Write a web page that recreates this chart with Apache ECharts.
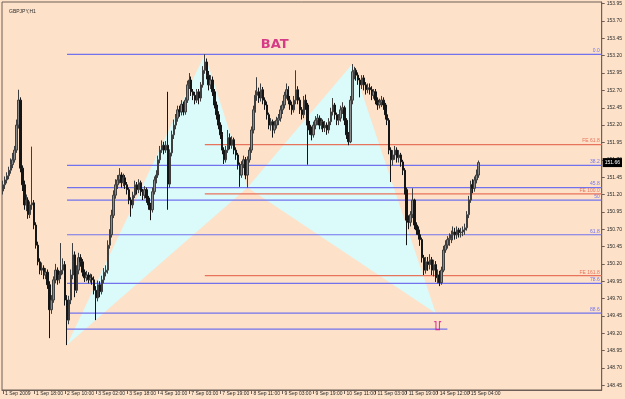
<!DOCTYPE html>
<html>
<head>
<meta charset="utf-8">
<script src="https://cdn.jsdelivr.net/npm/echarts@6/dist/echarts.min.js"></script>
<style>
html,body{margin:0;padding:0;background:#fde2c9}
#chart{width:625px;height:399px}
</style>
</head>
<body>
<div id="chart"></div>
<script>
// GBPJPY H1, one row per hour: [open, close, low, high]
const sep01 = [
[151.25,151.34,151.20,151.40],[151.34,151.41,151.28,151.46],[151.41,151.47,151.36,151.52],[151.47,151.55,151.42,151.60],
[151.55,151.63,151.50,151.72],[151.63,151.70,151.58,151.80],[151.70,151.84,151.66,151.90],[151.84,152.20,151.80,152.28],
[152.20,152.56,152.15,152.71],[152.56,151.58,151.52,152.60],[151.58,151.34,151.25,151.62],[151.34,151.05,150.98,151.40],
[151.05,151.12,150.96,151.20],[151.12,150.91,150.85,151.16],[150.91,151.05,150.86,151.10],[151.05,151.08,150.98,151.89],
[151.08,150.76,150.70,151.12],[150.76,150.47,150.42,150.80],[150.47,150.23,150.18,150.52],[150.23,150.11,150.05,150.28],
[150.11,150.14,150.04,150.22],[150.14,150.04,149.98,150.18]
];
const sep02 = [
[150.04,150.08,149.98,150.14],[150.08,149.90,149.84,150.12],[149.90,149.54,149.13,149.95],[149.54,149.68,149.48,149.75],
[149.68,149.97,149.64,150.02],[149.97,150.11,149.92,150.20],[150.11,149.97,149.90,150.15],[149.97,150.04,149.92,150.10],
[150.04,150.11,149.98,150.50],[150.11,150.19,150.05,150.28],[150.19,149.68,149.60,150.24],[149.68,149.39,149.03,149.75],
[149.39,149.68,149.33,149.74],[149.68,150.04,149.62,150.12],[150.04,150.33,149.98,150.50],[150.33,149.82,149.72,150.38],
[149.82,150.11,149.78,150.18],[150.11,150.29,150.05,150.36],[150.29,150.23,150.16,150.34],[150.23,150.08,150.02,150.27],
[150.08,150.00,149.94,150.12],[150.00,150.04,149.95,150.10],[150.04,149.97,149.92,150.08],[149.97,150.00,149.93,150.06]
];
const sep03 = [
[150.00,149.97,149.90,150.05],[149.97,149.82,149.76,150.02],[149.82,149.71,149.39,149.88],[149.71,149.90,149.66,149.96],
[149.90,149.80,149.72,149.95],[149.80,149.97,149.76,150.03],[149.97,150.08,149.92,150.14],[150.08,150.11,150.02,150.18],
[150.11,150.47,150.06,150.54],[150.47,150.62,150.42,150.70],[150.62,150.90,150.58,150.98],[150.90,151.19,150.86,151.26],
[151.19,151.34,151.14,151.42],[151.34,151.41,151.28,151.48],[151.41,151.48,151.36,151.58],[151.48,151.37,151.30,151.52],
[151.37,151.44,151.32,151.50],[151.44,151.34,151.28,151.48],[151.34,151.27,151.20,151.38],[151.27,151.12,151.06,151.30],
[151.12,151.05,150.88,151.16],[151.05,151.19,151.00,151.24],[151.19,151.34,151.15,151.40],[151.34,151.27,151.20,151.38]
];
const sep04 = [
[151.27,151.37,151.22,151.42],[151.37,151.24,151.18,151.40],[151.24,151.19,151.12,151.28],[151.19,151.27,151.14,151.32],
[151.27,151.15,151.08,151.30],[151.15,151.05,150.98,151.18],[151.05,150.98,150.83,151.08],[150.98,151.24,150.94,151.30],
[151.24,151.41,151.20,151.46],[151.41,151.48,151.36,151.55],[151.48,151.70,151.44,151.76],[151.70,151.84,151.65,151.90],
[151.84,151.91,151.80,151.98],[151.91,151.84,151.78,151.96],[151.84,151.91,151.80,151.97],[151.91,151.35,150.98,152.68],
[151.35,151.80,151.30,151.85],[151.80,152.06,151.75,152.12],[152.06,152.20,152.00,152.28],[152.20,152.30,152.14,152.36],
[152.30,152.42,152.25,152.48],[152.42,152.39,152.32,152.48],[152.39,152.50,152.34,152.56]
];
const sep07 = [
[152.50,152.39,152.34,152.54],[152.39,152.56,152.35,152.60],[152.56,152.78,152.52,152.84],[152.78,152.85,152.72,152.95],
[152.85,152.68,152.62,152.90],[152.68,152.63,152.56,152.72],[152.63,152.56,152.50,152.68],[152.56,152.68,152.52,152.72],
[152.68,152.59,152.50,152.72],[152.59,152.78,152.54,152.82],[152.78,152.99,152.74,153.05],[152.99,153.11,152.94,153.22],
[153.11,152.92,152.86,153.16],[152.92,152.78,152.70,152.98],[152.78,152.85,152.72,152.92],[152.85,152.68,152.62,152.90],
[152.68,152.49,152.44,152.72],[152.49,152.35,152.28,152.54],[152.35,152.20,152.14,152.40],[152.20,152.06,152.00,152.24],
[152.06,151.84,151.78,152.10],[151.84,151.70,151.64,151.88],[151.70,151.84,151.66,151.90],[151.84,152.02,151.80,152.13]
];
const sep08 = [
[152.02,151.91,151.85,152.08],[151.91,151.99,151.86,152.04],[151.99,151.84,151.78,152.02],[151.84,151.77,151.70,151.88],
[151.77,151.63,151.56,151.80],[151.63,151.48,151.31,151.66],[151.48,151.63,151.44,151.68],[151.63,151.70,151.58,151.76],
[151.70,151.48,151.42,151.74],[151.48,151.70,151.30,151.75],[151.70,151.84,151.66,151.88],[151.84,152.13,151.80,152.18],
[152.13,152.42,152.08,152.48],[152.42,152.63,152.38,152.70],[152.63,152.68,152.55,152.89],[152.68,152.59,152.52,152.74],
[152.59,152.71,152.54,152.80],[152.71,152.56,152.50,152.75],[152.56,152.49,152.42,152.60],[152.49,152.35,152.28,152.54],
[152.35,152.20,152.14,152.38],[152.20,152.25,152.12,152.30],[152.25,152.13,152.02,152.28],[152.13,152.20,152.08,152.26]
];
const sep09 = [
[152.20,152.27,152.15,152.32],[152.27,152.30,152.20,152.36],[152.30,152.42,152.25,152.48],[152.42,152.49,152.36,152.55],
[152.49,152.63,152.44,152.68],[152.63,152.71,152.58,152.80],[152.71,152.56,152.50,152.76],[152.56,152.49,152.42,152.62],
[152.49,152.42,152.35,152.54],[152.42,152.56,152.38,152.62],[152.56,152.71,152.50,152.99],[152.71,152.56,152.50,152.76],
[152.56,152.42,152.36,152.60],[152.42,152.35,152.28,152.46],[152.35,152.56,152.30,152.62],[152.56,152.49,152.42,152.64],
[152.49,152.20,151.63,152.52],[152.20,152.13,152.06,152.26],[152.13,152.06,151.98,152.18],[152.06,152.20,152.02,152.25],
[152.20,152.27,152.14,152.33],[152.27,152.30,152.20,152.36],[152.30,152.20,152.14,152.34],[152.20,152.25,152.14,152.30]
];
const sep10 = [
[152.25,152.16,152.10,152.28],[152.16,152.20,152.10,152.26],[152.20,152.13,152.06,152.24],[152.13,152.25,152.08,152.30],
[152.25,152.39,152.20,152.45],[152.39,152.49,152.34,152.59],[152.49,152.35,152.28,152.52],[152.35,152.27,152.20,152.38],
[152.27,152.30,152.20,152.36],[152.30,152.42,152.25,152.48],[152.42,152.45,152.36,152.53],[152.45,152.27,152.20,152.48],
[152.27,152.06,152.00,152.30],[152.06,151.96,151.91,152.10],[151.96,152.56,151.94,152.62],[152.56,152.97,152.50,153.08],
[152.97,152.99,152.86,153.04],[152.99,152.92,152.84,153.02],[152.92,152.85,152.78,152.96],[152.85,152.78,152.60,152.88],
[152.78,152.88,152.72,152.92],[152.88,152.78,152.70,152.92],[152.78,152.71,152.64,152.82],[152.71,152.74,152.66,152.80]
];
const sep11 = [
[152.74,152.71,152.64,152.80],[152.71,152.63,152.56,152.76],[152.63,152.68,152.58,152.72],[152.68,152.56,152.50,152.72],
[152.56,152.49,152.42,152.60],[152.49,152.53,152.44,152.58],[152.53,152.56,152.46,152.62],[152.56,152.49,152.42,152.60],
[152.49,152.35,152.28,152.52],[152.35,152.27,152.20,152.38],[152.27,151.84,151.78,152.30],[151.84,151.70,151.38,151.88],
[151.70,151.77,151.62,151.84],[151.77,151.84,151.70,151.90],[151.84,151.73,151.66,151.88],[151.73,151.77,151.66,151.84],
[151.77,151.67,151.60,151.80],[151.67,151.55,151.48,151.70],[151.55,151.27,151.20,151.58],[151.27,150.83,150.47,151.30],
[150.83,150.80,150.70,150.90],[150.80,150.91,150.74,150.96],[150.91,151.12,150.86,151.29]
];
const sep14 = [
[151.12,150.76,150.70,151.14],[150.76,150.69,150.62,150.80],[150.69,150.62,150.55,150.74],[150.62,150.55,150.46,150.66],
[150.55,150.29,150.22,150.58],[150.29,150.11,150.04,150.33],[150.11,150.23,150.06,150.30],[150.23,150.19,150.10,150.30],
[150.19,150.26,150.12,150.34],[150.26,150.11,150.04,150.30],[150.11,150.19,150.02,150.26],[150.19,150.00,149.94,150.24],
[150.00,150.04,149.92,150.12],[150.04,149.93,149.88,150.10],[149.93,150.11,149.90,150.16],[150.11,150.40,150.08,150.46],
[150.40,150.47,150.36,150.54],[150.47,150.55,150.42,150.60],[150.55,150.57,150.46,150.64],[150.57,150.62,150.50,150.68],
[150.62,150.66,150.54,150.74],[150.66,150.62,150.55,150.72],[150.62,150.69,150.56,150.74],[150.69,150.65,150.58,150.72]
];
const sep15 = [
[150.65,150.66,150.58,150.72],[150.66,150.69,150.60,150.74],[150.69,150.72,150.62,150.78],[150.72,150.91,150.68,150.96],
[150.91,151.12,150.86,151.18],[151.12,151.34,151.08,151.40],[151.34,151.29,151.22,151.42],[151.29,151.41,151.24,151.46],
[151.41,151.48,151.36,151.56],[151.48,151.66,151.44,151.69]
];

// one label every 16 bars
const tickLabels = ['1 Sep 2009','1 Sep 18:00','2 Sep 10:00','3 Sep 02:00','3 Sep 18:00','4 Sep 10:00',
  '7 Sep 03:00','7 Sep 19:00','8 Sep 11:00','9 Sep 03:00','9 Sep 19:00','10 Sep 11:00',
  '11 Sep 03:00','11 Sep 19:00','14 Sep 12:00','15 Sep 04:00'];
const priceTicks = [148.45,148.70,148.95,149.20,149.45,149.70,149.95,150.20,150.45,150.70,150.95,151.20,
  151.45,151.70,151.95,152.20,152.45,152.70,152.95,153.20,153.45,153.70,153.95];

// bat pattern points: [bar, price]
const pX = [33, 149.03];
const pA = [104, 153.22];
const pB = [126, 151.30];
const pC = [180, 153.08];
const pD = [223, 149.49];

// fibo retracement of XA (drawn from X) and expansion of AB from C (drawn from A)
const retraceNames = ['0.0','38.2','45.8','50','61.8','78.6','88.6'];
const retracePrices = [153.22,151.62,151.30,151.12,150.62,149.92,149.49];
const expansionNames = ['FE 61.8','FE 100.0','FE 161.8'];
const expansionPrices = [151.92,151.21,150.03];
const targetPrices = [149.26];
const targetEndBar = 229;
const dMarker = [224, 149.31];
const patternLabel = [140, 153.36];

const candles = [].concat(sep01, sep02, sep03, sep04, sep07, sep08, sep09, sep10, sep11, sep14, sep15);
const slots = Array.from({length: 309}, (_, i) => i);
const lastPrice = sep15[sep15.length - 1][1];

const blue = '#7272ee', red = '#e8735c', ink = '#2b2b2b', frame = '#6e5f57';
const tiny = 'Liberation Sans';

const showTick = i => i % 16 === 0 && i / 16 < tickLabels.length;

// horizontal level from a start bar to the right edge (or to endBar), name above its right end
function levelRender(color, names, endBar) {
  return function (params, api) {
    const p0 = api.coord([api.value(0), api.value(1)]);
    const cs = params.coordSys;
    const x2 = endBar == null ? cs.x + cs.width : api.coord([endBar, api.value(1)])[0];
    const children = [{
      type: 'line',
      shape: {x1: p0[0], y1: p0[1], x2: x2, y2: p0[1]},
      style: {stroke: color, lineWidth: 1.2}
    }];
    if (names) {
      children.push({
        type: 'text',
        style: {text: names[params.dataIndex], x: x2 - 2, y: p0[1] - 1,
          align: 'right', verticalAlign: 'bottom', fill: color, font: '5px ' + tiny}
      });
    }
    return {type: 'group', children: children};
  };
}

const chart = echarts.init(document.getElementById('chart'));
chart.setOption({
  backgroundColor: '#fde2c9',
  animation: false,
  title: {
    text: 'GBPJPY,H1', left: 4, top: 4,
    textStyle: {fontSize: 5, fontWeight: 'normal', color: ink, fontFamily: tiny}
  },
  grid: {left: 2, right: 19, top: 2, bottom: 9, show: true, borderColor: frame, borderWidth: 1, backgroundColor: 'transparent'},
  xAxis: {
    type: 'category', data: slots, boundaryGap: true,
    axisLine: {show: true, lineStyle: {color: frame}},
    axisTick: {show: true, alignWithLabel: true, interval: showTick, length: 4, lineStyle: {color: frame}},
    axisLabel: {interval: showTick, formatter: (v, i) => tickLabels[i / 16], align: 'left', padding: [0, 0, 0, 2],
      margin: 1, fontSize: 5, color: ink, fontFamily: tiny},
    splitLine: {show: false}
  },
  yAxis: {
    type: 'value', position: 'right', min: 148.383, max: 153.974, scale: true,
    axisLine: {show: true, lineStyle: {color: frame}},
    axisTick: {show: true, customValues: priceTicks, length: 3, lineStyle: {color: frame}},
    axisLabel: {customValues: priceTicks, formatter: v => v.toFixed(2), margin: 5, fontSize: 5, color: ink, fontFamily: tiny},
    splitLine: {show: false}
  },
  series: [
    {
      type: 'custom', silent: true, z: 1,
      data: [[pX[0], pX[1], pA[0], pA[1], pB[0], pB[1]], [pB[0], pB[1], pC[0], pC[1], pD[0], pD[1]]],
      encode: {x: [0, 2, 4], y: [1, 3, 5]},
      renderItem: (params, api) => ({
        type: 'polygon',
        shape: {points: [0, 1, 2].map(k => api.coord([api.value(2 * k), api.value(2 * k + 1)]))},
        style: {fill: '#dbfafa'}
      })
    },
    {
      type: 'custom', silent: true, z: 2,
      data: retracePrices.map(price => [pX[0], price]),
      encode: {x: 0, y: 1},
      renderItem: levelRender(blue, retraceNames)
    },
    {
      type: 'custom', silent: true, z: 2,
      data: expansionPrices.map(price => [pA[0], price]),
      encode: {x: 0, y: 1},
      renderItem: levelRender(red, expansionNames)
    },
    {
      type: 'custom', silent: true, z: 2,
      data: targetPrices.map(price => [pX[0], price]),
      encode: {x: 0, y: 1},
      renderItem: levelRender(blue, null, targetEndBar)
    },
    {
      type: 'candlestick', z: 3, barWidth: 1.9, clip: false,
      data: candles,
      itemStyle: {color: '#8a8a8a', color0: '#151515', borderColor: '#3e3e3e', borderColor0: '#151515', borderWidth: 1},
      markLine: {
        silent: true, symbol: 'none', z: 10,
        lineStyle: {color: 'rgba(0,0,0,0)', width: 1, type: 'solid'},
        label: {show: true, position: 'end', formatter: lastPrice.toFixed(2), backgroundColor: '#000', color: '#fff',
          opacity: 1, fontSize: 5, fontFamily: tiny, padding: [2, 2], distance: 1},
        data: [{yAxis: lastPrice}]
      }
    },
    {
      type: 'scatter', z: 4, silent: true,
      data: [dMarker],
      symbol: 'path://M0,0 L2,0 L2,8 L6,8 L6,0 L8,0',
      symbolSize: [7, 8],
      itemStyle: {color: 'none', borderColor: '#dd1188', borderWidth: 1.2}
    },
    {
      type: 'scatter', z: 4, silent: true,
      data: [patternLabel],
      symbolSize: 0,
      label: {show: true, position: 'inside', formatter: 'BAT', color: '#cc1177', fontSize: 13,
        fontWeight: 'bold', fontFamily: 'DejaVu Sans'}
    }
  ]
});
</script>
</body>
</html>
